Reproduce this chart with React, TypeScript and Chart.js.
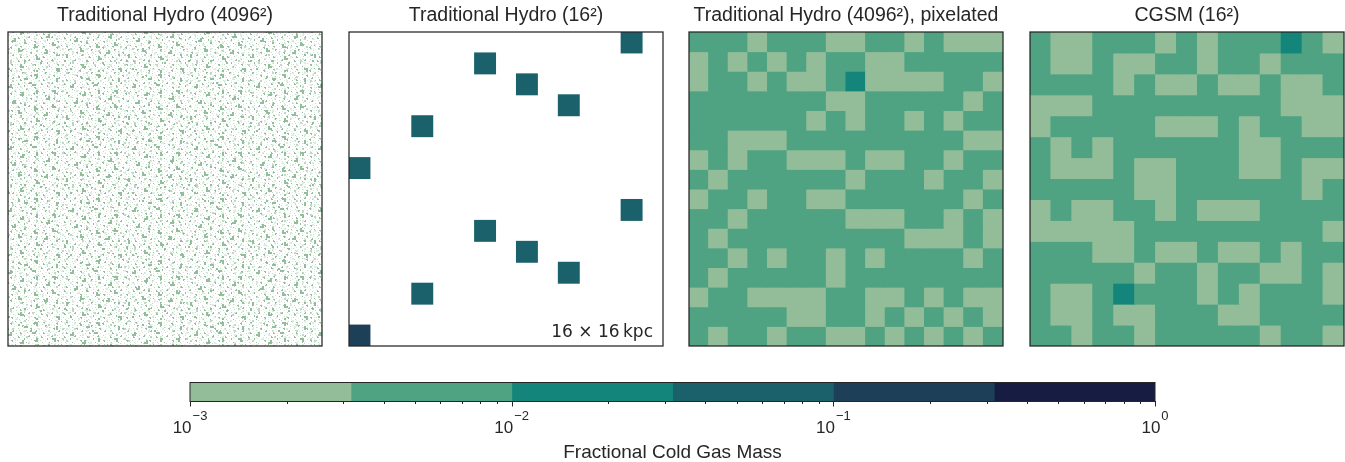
import React, { useEffect, useRef } from "react";
import { Chart, registerables } from "chart.js";

Chart.register(...registerables);

// ---------------- data ----------------
const PANEL_TITLES = [
  "Traditional Hydro (4096²)",
  "Traditional Hydro (16²)",
  "Traditional Hydro (4096²), pixelated",
  "CGSM (16²)",
];

// colour-bar bin edges (fractional cold gas mass) and colours
const LEVEL_EDGES = [1e-3, 10 ** -2.5, 1e-2, 10 ** -1.5, 1e-1, 10 ** -0.5, 1];
const LEVEL_COLORS = ["#93bd98", "#4fa383", "#13857a", "#1a616c", "#1e3f58", "#171c42"];
// representative value of each level code (0 = below 1e-3, blank)
const LEVEL_VALUES = [0, 0.0018, 0.0056, 0.018, 0.056, 0.18, 0.56];

// Panel 2: Traditional Hydro (16^2) cells (level codes)
const hydroLowRes = [
  "000000000000040",
  "000000400000000",
  "000000004000000",
  "000000000040000",
  "000400000000000",
  "000000000000000",
  "400000000000000",
  "000000000000000",
  "000000000000040",
  "000000400000000",
  "000000004000000",
  "000000000040000",
  "000400000000000",
  "000000000000000",
  "500000000000000",
];

// Panel 3: Traditional Hydro (4096^2), pixelated
const hydroPixelated = [
  "2221222112212111",
  "1212121221122222",
  "1221211231111221",
  "2222222112222212",
  "2222221212212122",
  "2211122222222211",
  "1212211121122122",
  "2122222212221221",
  "1221221122222212",
  "2212222211122121",
  "2122222222211121",
  "2212122121222212",
  "2122222122222222",
  "1221111221121211",
  "2222211221212121",
  "2122122112121212",
];

// Panel 4: CGSM (16^2)
const cgsm = [
  "211222121222321",
  "211211221221222",
  "222212112112112",
  "111222222222111",
  "122222111212211",
  "212122222211222",
  "211121122211211",
  "222221122222212",
  "121122121112222",
  "111112222222221",
  "222112112112122",
  "222221221221121",
  "211232221212221",
  "211211222112222",
  "221221222221221",
];

// Panel 1: fine speckle texture of the 4096^2 field (a = faint, b = medium, c = full)
const speckleTileA = [
  "..a....b....a...cc....a",
  "......cc.........b.....",
  ".a.....c..a....b.......",
  "....b.......a.....cc..a",
  "..........b.......c....",
  "a...a..............a..b",
  "...cc.....a...b........",
  "....c..a..........a....",
  ".........c..a..b......b",
  "..a.....cc.........a...",
  "b.....a.........c......",
  "....a.......b...cc..a..",
  ".........a.............",
  "..c....b.....a......b..",
  ".cc...........c...a....",
  "......a..b....cc......a",
  "a..........a........c..",
  "....b...........a...c..",
  ".......cc..a.b.........",
  "..a.....c.........a....",
  "...........a...b......c",
  ".b...a..........a......",
  "........b..c.......a...",
];
const speckleTileB = [
  "...b......a.......c.......a....",
  ".a......c.....b.......a......b.",
  "........cc...........b.........",
  "..c.........a....a........cc...",
  "......a.........c..........c...",
  "b.........b.........a.....a....",
  "....a..........cc.............a",
  ".......c...a....c.....b........",
  "..........cc.........a....c....",
  "a...b............a........c..b.",
  "..........a..c........b........",
  "...c..........cc.............a.",
  "..cc....a.............a..b.....",
  "...........b....a..............",
  ".....a..........c.......cc...b.",
  "b........c......c........c.....",
  "........cc..a.........a........",
  "..a.............b.....c..a.....",
  "...........a.........cc........",
  ".....c.........a..........b...a",
  "....cc....b.........a..........",
  "..........c.....a.......c......",
  "a.....a........c........cc.....",
  "...............cc..a.......b...",
  "..b....c..a..................a.",
  ".......cc.......b....c.........",
  "...a.........a......cc....a....",
  "c.......b.................c..b.",
  "c..........a....c..a...........",
  "......a.........cc.......a.....",
  "...b......c.............b.....c",
];
// texture layers: tile and pixel size of each tile cell
const SPECKLE_LAYERS = [
  { tile: speckleTileA, cell: 1 },
  { tile: speckleTileB, cell: 2 },
];

const CBAR_MAJOR = [1e-3, 1e-2, 1e-1, 1];
const CBAR_EXPONENTS = ["\u22123", "\u22122", "\u22121", "0"];
const CBAR_LABEL = "Fractional Cold Gas Mass";
const SCALE_NOTE = "16 \u00d7 16\u2009kpc";

// ---------------- styling helpers ----------------
const TEXT = "#262626";
const SANS = "'Liberation Sans', Arial, Helvetica, sans-serif";

function colorFor(v: number): string {
  for (let i = 0; i < LEVEL_COLORS.length; i++) {
    if (v >= LEVEL_EDGES[i] && v < LEVEL_EDGES[i + 1]) return LEVEL_COLORS[i];
  }
  return "rgba(0,0,0,0)";
}

const framePlugin = {
  id: "frame",
  afterDraw(chart: any) {
    const { ctx, chartArea: a } = chart;
    ctx.save();
    ctx.strokeStyle = TEXT;
    ctx.lineWidth = 1.25;
    ctx.strokeRect(a.left, a.top, a.right - a.left, a.bottom - a.top);
    ctx.restore();
  },
};

function titleOpts(text: string) {
  return {
    display: true,
    text,
    color: TEXT,
    font: { family: SANS, size: 19.5, weight: "normal" as const },
    padding: { top: 3.9, bottom: 4.7 },
  };
}

const PAD = { left: 4, right: 4, top: 0, bottom: 4 };

function gridConfig(rows: string[], title: string, extraPlugins: any[] = []) {
  const n = rows.length;
  const cols = rows[0].length;
  const labels = Array.from({ length: cols }, (_, i) => String(i));
  const datasets = rows.map((row, r) => {
    const vals = row.split("").map((ch) => LEVEL_VALUES[Number(ch)]);
    return {
      data: vals.map((v) => (v >= LEVEL_EDGES[0] ? [r, r + 1] : null)),
      backgroundColor: vals.map((v) => colorFor(v)),
      borderWidth: 0,
      barPercentage: 1,
      categoryPercentage: 1,
      grouped: false,
      inflateAmount: 0.5,
    };
  });
  return {
    type: "bar",
    data: { labels, datasets },
    options: {
      responsive: false,
      animation: false,
      devicePixelRatio: 1,
      layout: { padding: PAD },
      scales: {
        x: { type: "category", display: false },
        y: { type: "linear", min: 0, max: n, reverse: true, display: false },
      },
      plugins: {
        legend: { display: false },
        tooltip: { enabled: false },
        title: titleOpts(title),
      },
    },
    plugins: [framePlugin, ...extraPlugins],
  };
}

function makePattern(tile: string[], cell: number): CanvasPattern | string {
  const w = Math.max(...tile.map((r) => r.length));
  const h = tile.length;
  const c = document.createElement("canvas");
  c.width = w * cell;
  c.height = h * cell;
  const g = c.getContext("2d");
  if (!g) return "rgba(0,0,0,0)";
  const alpha: Record<string, number> = { a: 0.28, b: 0.55, c: 0.95 };
  tile.forEach((row, y) =>
    row.split("").forEach((ch, x) => {
      const al = alpha[ch];
      if (al) {
        g.fillStyle = `rgba(141,187,150,${al})`;
        g.fillRect(x * cell, y * cell, cell, cell);
      }
    })
  );
  return g.createPattern(c, "repeat") || "rgba(0,0,0,0)";
}

function speckleConfig(title: string) {
  return {
    type: "bar",
    data: {
      labels: ["field"],
      datasets: SPECKLE_LAYERS.map((l) => ({
        data: [[0, 1]],
        backgroundColor: makePattern(l.tile, l.cell),
        borderWidth: 0,
        barPercentage: 1,
        categoryPercentage: 1,
        grouped: false,
      })),
    },
    options: {
      responsive: false,
      animation: false,
      devicePixelRatio: 1,
      layout: { padding: PAD },
      scales: {
        x: { type: "category", display: false },
        y: { type: "linear", min: 0, max: 1, display: false },
      },
      plugins: {
        legend: { display: false },
        tooltip: { enabled: false },
        title: titleOpts(title),
      },
    },
    plugins: [framePlugin],
  };
}

const notePlugin = {
  id: "note",
  afterDraw(chart: any) {
    const { ctx, chartArea: a } = chart;
    ctx.save();
    ctx.fillStyle = TEXT;
    ctx.font = "17px 'DejaVu Sans', sans-serif";
    ctx.textAlign = "right";
    ctx.textBaseline = "alphabetic";
    ctx.fillText(SCALE_NOTE, a.right - 10, a.bottom - 9);
    ctx.restore();
  },
};

const cbarPlugin = {
  id: "cbarAxis",
  afterDraw(chart: any) {
    const { ctx, chartArea: a } = chart;
    const xs = chart.scales.x;
    ctx.save();
    ctx.strokeStyle = TEXT;
    ctx.lineWidth = 1;
    ctx.strokeRect(a.left, a.top + 0.5, a.right - a.left, a.bottom - a.top);
    // ticks
    ctx.beginPath();
    CBAR_MAJOR.forEach((v, i) => {
      const x = Math.round(xs.getPixelForValue(v)) + 0.5;
      ctx.moveTo(x, a.bottom);
      ctx.lineTo(x, a.bottom + 5.5);
      if (i < CBAR_MAJOR.length - 1) {
        for (let k = 2; k <= 9; k++) {
          const xm = Math.round(xs.getPixelForValue(v * k)) + 0.5;
          ctx.moveTo(xm, a.bottom);
          ctx.lineTo(xm, a.bottom + 3);
        }
      }
    });
    ctx.stroke();
    // labels
    ctx.fillStyle = TEXT;
    ctx.textBaseline = "alphabetic";
    ctx.textAlign = "left";
    CBAR_MAJOR.forEach((v, i) => {
      const x = xs.getPixelForValue(v);
      ctx.font = `17px ${SANS}`;
      const wb = ctx.measureText("10").width;
      ctx.font = `13px ${SANS}`;
      const we = ctx.measureText(CBAR_EXPONENTS[i]).width;
      const x0 = x - (wb + we + 1) / 2;
      ctx.font = `17px ${SANS}`;
      ctx.fillText("10", x0, a.bottom + 32);
      ctx.font = `13px ${SANS}`;
      ctx.fillText(CBAR_EXPONENTS[i], x0 + wb + 1, a.bottom + 19);
    });
    ctx.font = `19px ${SANS}`;
    ctx.textAlign = "center";
    ctx.fillText(CBAR_LABEL, (a.left + a.right) / 2, a.bottom + 57);
    ctx.restore();
  },
};

function colorbarConfig() {
  return {
    type: "bar",
    data: {
      labels: ["cbar"],
      datasets: LEVEL_COLORS.map((c, i) => ({
        data: [[LEVEL_EDGES[i], LEVEL_EDGES[i + 1]]],
        backgroundColor: c,
        borderWidth: 0,
        barPercentage: 1,
        categoryPercentage: 1,
        grouped: false,
        inflateAmount: 0.5,
      })),
    },
    options: {
      indexAxis: "y",
      responsive: false,
      animation: false,
      devicePixelRatio: 1,
      layout: { padding: { left: 40, right: 45, top: 12, bottom: 61 } },
      scales: {
        x: { type: "logarithmic", min: 1e-3, max: 1, display: false },
        y: { type: "category", display: false },
      },
      plugins: {
        legend: { display: false },
        tooltip: { enabled: false },
        title: { display: false },
      },
    },
    plugins: [cbarPlugin],
  };
}

// ---------------- components ----------------
function ChartCanvas(props: { left: number; top: number; width: number; height: number; make: () => any }) {
  const ref = useRef<HTMLCanvasElement>(null);
  useEffect(() => {
    if (!ref.current) return;
    const chart = new Chart(ref.current, props.make());
    return () => chart.destroy();
  }, []);
  return (
    <canvas
      ref={ref}
      width={props.width}
      height={props.height}
      style={{ position: "absolute", left: props.left, top: props.top, width: props.width, height: props.height }}
    />
  );
}

const PANEL_LEFTS = [8, 349, 689, 1030];

export default function App() {
  return (
    <div
      style={{
        position: "absolute",
        left: 0,
        top: 0,
        width: 1345,
        height: 462,
        overflow: "hidden",
        background: "#ffffff",
      }}
    >
      <ChartCanvas left={PANEL_LEFTS[0] - 4} top={0} width={322} height={350} make={() => speckleConfig(PANEL_TITLES[0])} />
      <ChartCanvas left={PANEL_LEFTS[1] - 4} top={0} width={322} height={350} make={() => gridConfig(hydroLowRes, PANEL_TITLES[1], [notePlugin])} />
      <ChartCanvas left={PANEL_LEFTS[2] - 4} top={0} width={322} height={350} make={() => gridConfig(hydroPixelated, PANEL_TITLES[2])} />
      <ChartCanvas left={PANEL_LEFTS[3] - 4} top={0} width={322} height={350} make={() => gridConfig(cgsm, PANEL_TITLES[3])} />
      <ChartCanvas left={150} top={370} width={1050} height={92} make={colorbarConfig} />
    </div>
  );
}
